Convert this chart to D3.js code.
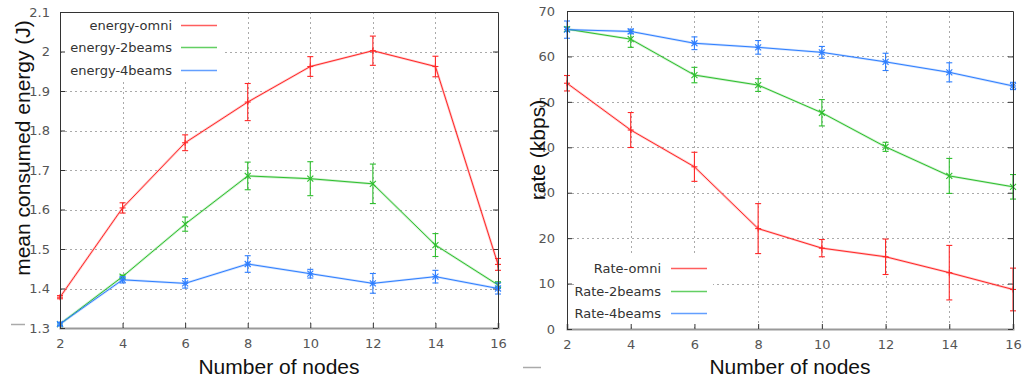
<!DOCTYPE html>
<html><head><meta charset="utf-8">
<script src="https://cdn.jsdelivr.net/npm/d3@7"></script>
<style>
body{margin:0;background:#fff;}
svg{display:block;}
</style></head>
<body>
<svg id="c" width="1024" height="383"></svg>
<script>
const nodes = [2,4,6,8,10,12,14,16];
const xTicks = [2,4,6,8,10,12,14,16];

const energyOmni = [1.378,1.604,1.769,1.872,1.962,2.002,1.962,1.461];
const energyOmniErr = [0.004,0.013,0.02,0.047,0.025,0.037,0.026,0.015];
const energy2beams = [1.31,1.43,1.563,1.685,1.678,1.665,1.51,1.409];
const energy2beamsErr = [0.003,0.004,0.018,0.035,0.043,0.05,0.029,0.008];
const energy4beams = [1.31,1.422,1.413,1.462,1.4375,1.413,1.43,1.40];
const energy4beamsErr = [0.004,0.008,0.012,0.021,0.011,0.025,0.016,0.014];
const energyTicks = [1.3,1.4,1.5,1.6,1.7,1.8,1.9,2.0,2.1];
const energyTickLabels = ["1.3","1.4","1.5","1.6","1.7","1.8","1.9","2","2.1"];

const rateOmni = [54.1,43.8,35.7,22.1,17.8,15.9,12.4,8.7];
const rateOmniErr = [1.7,3.85,3.2,5.5,1.9,3.9,6.0,4.7];
const rate2beams = [66,63.8,55.9,53.7,47.6,40.1,33.7,31.3];
const rate2beamsErr = [0.5,1.8,1.7,1.4,2.9,1.0,3.85,2.7];
const rate4beams = [65.9,65.5,62.9,62.0,60.9,58.8,56.5,53.5];
const rate4beamsErr = [1.9,0.5,1.4,1.5,1.3,1.9,2.1,0.8];
const rateTicks = [0,10,20,30,40,50,60,70];

const energyNames = ["energy-omni","energy-2beams","energy-4beams"];
const rateNames = ["Rate-omni","Rate-2beams","Rate-4beams"];
const colors = ["#ff2828","#2fbf2f","#2f7fff"];
const markers = ["plus","cross","star"];

const svg = d3.select("#c");
const TICKFONT = "'DejaVu Sans', sans-serif";
const TITLEFONT = "'Liberation Sans', Arial, sans-serif";

function drawChart(cfg){
  const g = svg.append("g");
  const x = d3.scaleLinear().domain([2,16]).range([cfg.left, cfg.right]);
  const y = d3.scaleLinear().domain(cfg.yDomain).range([cfg.bottom, cfg.top]);

  const grid = g.append("g").attr("stroke","#aaa").attr("stroke-width",1).attr("stroke-dasharray","2,3");
  grid.selectAll(".gx").data(xTicks.slice(1,-1)).join("line")
    .attr("x1",d=>Math.round(x(d))+0.5).attr("x2",d=>Math.round(x(d))+0.5)
    .attr("y1",cfg.top).attr("y2",cfg.bottom);
  grid.selectAll(".gy").data(cfg.yTicks.slice(1,-1)).join("line")
    .attr("y1",d=>Math.round(y(d))+0.5).attr("y2",d=>Math.round(y(d))+0.5)
    .attr("x1",cfg.left).attr("x2",cfg.right);

  g.append("rect").attr("x",cfg.legend.x0).attr("y",cfg.legend.y0)
    .attr("width",cfg.legend.x1-cfg.legend.x0).attr("height",cfg.legend.y1-cfg.legend.y0)
    .attr("fill","#fff");

  const xAxis = d3.axisBottom(x).tickValues(xTicks).tickSize(-5).tickPadding(11).tickFormat(d3.format("d"));
  const gx = g.append("g").attr("transform",`translate(0,${cfg.bottom})`).call(xAxis);
  gx.select(".domain").attr("stroke","#999").attr("stroke-width",2);
  gx.selectAll(".tick line").attr("stroke","#333");
  gx.selectAll("text").attr("font-family",TICKFONT).attr("font-size",13).attr("fill","#555");

  const yAxis = d3.axisLeft(y).tickValues(cfg.yTicks).tickSize(-5).tickPadding(cfg.yPad)
    .tickFormat((d,i)=>cfg.yLabels[i]);
  const gy = g.append("g").attr("transform",`translate(${cfg.left},0)`).call(yAxis);
  gy.select(".domain").remove();
  gy.selectAll(".tick line").attr("stroke","#333");
  gy.selectAll("text").attr("font-family",TICKFONT).attr("font-size",13).attr("fill","#555");

  const yAxisR = d3.axisRight(y).tickValues(cfg.yTicks).tickSize(-5).tickFormat("");
  const gyr = g.append("g").attr("transform",`translate(${cfg.right},0)`).call(yAxisR);
  gyr.select(".domain").remove();
  gyr.selectAll(".tick line").attr("stroke","#333");

  cfg.series.forEach((s,si)=>{
    const col = colors[si];
    const pts = nodes.map((n,i)=>({x:n,y:s.v[i],e:s.e[i]}));
    const line = d3.line().x(d=>x(d.x)).y(d=>y(d.y));
    const sg = g.append("g");
    sg.append("path").datum(pts).attr("d",line).attr("fill","none")
      .attr("stroke",col).attr("stroke-opacity",0.25).attr("stroke-width",2.4);
    sg.append("path").datum(pts).attr("d",line).attr("fill","none")
      .attr("stroke",col).attr("stroke-width",1);
    const eb = sg.selectAll(".eb").data(pts).join("g").attr("stroke",col).attr("stroke-width",1.1);
    eb.append("line").attr("x1",d=>x(d.x)).attr("x2",d=>x(d.x)).attr("y1",d=>y(d.y-d.e)).attr("y2",d=>y(d.y+d.e));
    eb.append("line").attr("x1",d=>x(d.x)-3).attr("x2",d=>x(d.x)+3).attr("y1",d=>y(d.y-d.e)).attr("y2",d=>y(d.y-d.e));
    eb.append("line").attr("x1",d=>x(d.x)-3).attr("x2",d=>x(d.x)+3).attr("y1",d=>y(d.y+d.e)).attr("y2",d=>y(d.y+d.e));
    const mk = sg.selectAll(".mk").data(pts).join("g").attr("stroke",col).attr("stroke-width",1.1)
      .attr("transform",d=>`translate(${x(d.x)},${y(d.y)})`);
    const m = markers[si], r = 3;
    if(m==="plus"||m==="star"){
      mk.append("line").attr("x1",-r).attr("x2",r).attr("y1",0).attr("y2",0);
      mk.append("line").attr("x1",0).attr("x2",0).attr("y1",-r).attr("y2",r);
    }
    if(m==="cross"||m==="star"){
      mk.append("line").attr("x1",-r).attr("x2",r).attr("y1",-r).attr("y2",r);
      mk.append("line").attr("x1",-r).attr("x2",r).attr("y1",r).attr("y2",-r);
    }
    const ly = cfg.legend.rows[si];
    g.append("text").attr("x",cfg.legend.textX).attr("y",ly+4.5).attr("text-anchor","end")
      .attr("font-family",TICKFONT).attr("font-size",13).attr("fill","#333").text(cfg.names[si]);
    g.append("line").attr("x1",cfg.legend.lx0).attr("x2",cfg.legend.lx1).attr("y1",ly+0.5).attr("y2",ly+0.5)
      .attr("stroke",col).attr("stroke-width",1.6).attr("stroke-opacity",0.75);
  });

  g.append("path").attr("d",`M${cfg.left+0.5},${cfg.bottom}V${cfg.top+0.5}H${cfg.right+0.5}V${cfg.bottom}`)
    .attr("fill","none").attr("stroke","#333").attr("stroke-width",1);

  g.append("text").attr("x",(cfg.left+cfg.right)/2).attr("y",374).attr("text-anchor","middle")
    .attr("font-family",TITLEFONT).attr("font-size",21).attr("fill","#111").text("Number of nodes");
  g.append("text").attr("transform",`translate(${cfg.ytX},${cfg.ytY}) rotate(-90)`).attr("text-anchor","middle")
    .attr("font-family",TITLEFONT).attr("font-size",21).attr("fill","#111").text(cfg.yTitle);

  g.append("line").attr("x1",cfg.dash[0]).attr("x2",cfg.dash[1]).attr("y1",cfg.dash[2]).attr("y2",cfg.dash[2])
    .attr("stroke","#aaa").attr("stroke-width",1.5);
}

drawChart({
  left:60, right:498, top:12, bottom:328, yDomain:[1.3,2.1], yTicks:energyTicks, yLabels:energyTickLabels, yPad:10,
  series:[{v:energyOmni,e:energyOmniErr},{v:energy2beams,e:energy2beamsErr},{v:energy4beams,e:energy4beamsErr}],
  names:energyNames,
  legend:{x0:62,x1:222,y0:13,y1:80,textX:172,lx0:181,lx1:217,rows:[25,47,70]},
  yTitle:"mean consumed energy (J)", ytX:30, ytY:148, dash:[11,25,324.5]
});
drawChart({
  left:567, right:1013, top:11, bottom:329, yDomain:[0,70], yTicks:rateTicks, yLabels:rateTicks.map(String), yPad:12,
  series:[{v:rateOmni,e:rateOmniErr},{v:rate2beams,e:rate2beamsErr},{v:rate4beams,e:rate4beamsErr}],
  names:rateNames,
  legend:{x0:575,x1:713,y0:253,y1:327,textX:661,lx0:671,lx1:707,rows:[268,291,313]},
  yTitle:"rate (kbps)", ytX:545, ytY:150, dash:[523,541,367.5]
});
</script>
</body></html>
